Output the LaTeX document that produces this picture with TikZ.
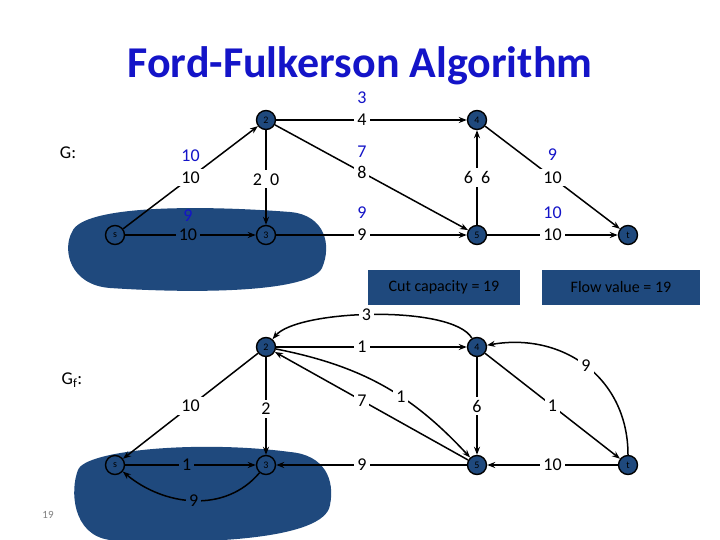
\documentclass[tikz,border=0pt]{standalone}
\usepackage{fontspec}
\setmainfont{Carlito}
\usetikzlibrary{arrows.meta}
\definecolor{nb}{RGB}{31,73,125}
\definecolor{tb}{RGB}{20,20,200}
\begin{document}
\begin{tikzpicture}[x=1pt,y=-1pt,
  v/.style={circle,draw=black,line width=1.4pt,fill=nb,minimum size=19pt,inner sep=0pt,font=\fontsize{10}{10}\selectfont},
  e/.style={draw=black,line width=1.5pt,-{Stealth[length=8pt,width=6pt]}},
  l/.style={fill=white,inner sep=3pt,font=\fontsize{18}{18}\selectfont},
  lo/.style={l,fill=nb},
  lb/.style={inner sep=1pt,font=\fontsize{18}{18}\selectfont,text=tb},
  box/.style={fill=nb,minimum width=152pt,minimum height=35pt,font=\fontsize{16}{16}\selectfont}]
\useasboundingbox (0,0) rectangle (720,540);
\fill[white] (0,0) rectangle (720,540);
\node[font=\bfseries\fontsize{44}{44}\selectfont,text=tb] (title) at (360,66) {Ford-Fulkerson Algorithm};
% blobs
\fill[nb] (72,232) .. controls (82,205) and (200,205) .. (290,212) .. controls (325,215) and (332,245) .. (322,268) .. controls (310,292) and (200,294) .. (110,288) .. controls (70,285) and (62,250) .. (72,232) -- cycle;
\fill[nb] (78,470) .. controls (85,450) and (200,440) .. (290,452) .. controls (325,455) and (335,480) .. (330,505) .. controls (325,540) and (200,545) .. (110,540) .. controls (72,535) and (70,490) .. (78,470) -- cycle;
\node[font=\fontsize{18}{18}\selectfont] (G) at (68,153) {G:};
\node[font=\fontsize{18}{18}\selectfont] (Gf) at (72,380) {G$_{\mathrm{f}}$:};
\node[font=\fontsize{11}{11}\selectfont,text=gray] (pg) at (48,515) {19};
% top graph
\node[v] (s) at (115,235) {s};
\node[v] (a2) at (266,120) {2};
\node[v] (a3) at (266,235) {3};
\node[v] (a4) at (477,120) {4};
\node[v] (a5) at (477,235) {5};
\node[v] (t) at (628,235) {t};
\draw[e] (s) -- (a2) node[l,pos=0.5] {10} node[lb,pos=0.5,yshift=22pt] {10};
\draw[e] (s) -- (a3) node[lo,pos=0.48] {10} node[lb,pos=0.48,yshift=19pt] {9};
\draw[e] (a2) -- (a3) node[l,pos=0.52] {2\ \ 0};
\draw[e] (a2) -- (a4) node[l,pos=0.45] {4} node[lb,pos=0.45,yshift=22pt] {3};
\draw[e] (a2) -- (a5) node[l,pos=0.45] {8} node[lb,pos=0.45,yshift=21pt] {7};
\draw[e] (a3) -- (a5) node[l,pos=0.45] {9} node[lb,pos=0.45,yshift=22pt] {9};
\draw[e] (a5) -- (a4) node[l,pos=0.5] {6\ \ 6};
\draw[e] (a4) -- (t) node[l,pos=0.5] {10} node[lb,pos=0.5,yshift=23pt] {9};
\draw[e] (a5) -- (t) node[l,pos=0.5] {10} node[lb,pos=0.5,yshift=22pt] {10};
\node[box] (cut) at (444,287) {Cut capacity = 19};
\node[box,minimum width=158pt] (flow) at (621,287) {Flow value = 19};
% residual graph
\node[v] (rs) at (115,465) {s};
\node[v] (r2) at (266,347) {2};
\node[v] (r3) at (266,465) {3};
\node[v] (r4) at (477,347) {4};
\node[v] (r5) at (477,465) {5};
\node[v] (rt) at (628,465) {t};
\draw[e] (r2) -- (rs) node[l,pos=0.5] {10};
\draw[e] (rs) -- (r3) node[lo,pos=0.47] {1};
\draw[e] (r3) to[out=230,in=-40] node[lo,pos=0.5] {9} (rs);
\draw[e] (r2) -- (r3) node[l,pos=0.53] {2};
\draw[e] (r2) -- (r4) node[l,pos=0.45] {1};
\draw[e] (r4) to[out=120,in=50,looseness=0.5] node[l,pos=0.53] {3} (r2);
\draw[e] (r5) -- (r2) node[l,pos=0.55] {7};
\draw[e] (r2) to[bend left=18] node[l,pos=0.6] {1} (r5);
\draw[e] (r5) -- (r3) node[l,pos=0.55] {9};
\draw[e] (r4) -- (r5) node[l,pos=0.5] {6};
\draw[e] (r4) -- (rt) node[l,pos=0.5] {1};
\draw[e] (rt) to[out=90,in=10,looseness=1.1] node[l,pos=0.5] {9} (r4);
\draw[e] (rt) -- (r5) node[l,pos=0.5] {10};
\end{tikzpicture}
\end{document}
